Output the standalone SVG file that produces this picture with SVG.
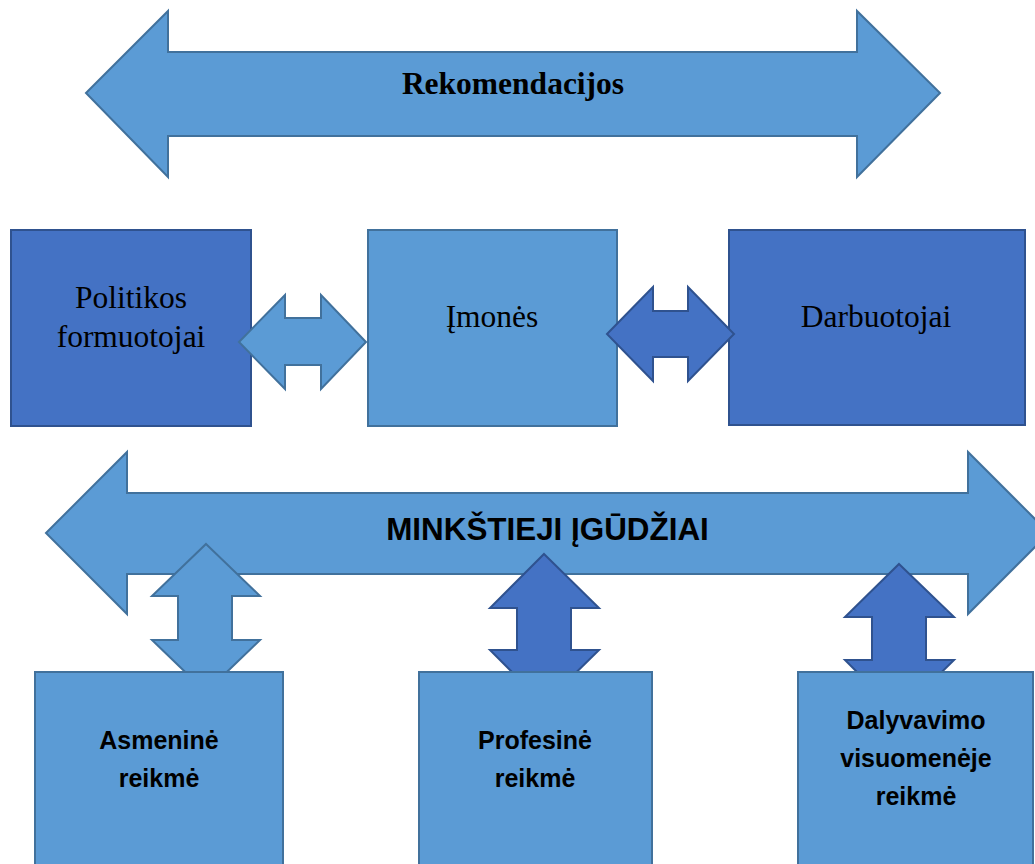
<svg xmlns="http://www.w3.org/2000/svg" width="1035" height="864" viewBox="0 0 1035 864">
<style>
.light{fill:#5B9BD5;stroke:#41719C;stroke-width:2}
.dark{fill:#4472C4;stroke:#2F528F;stroke-width:2}
.serif{font-family:"Liberation Serif","Times New Roman",serif;fill:#000;text-anchor:middle}
.sans{font-family:"Liberation Sans",Arial,sans-serif;font-weight:bold;fill:#000;text-anchor:middle}
</style>
<rect width="1035" height="864" fill="#fff"/>
<g id="rekomendacijos">
<polygon class="light" points="86,93 168,11 168,52 857,52 857,11 940,93 857,177 857,136 168,136 168,177"/>
<text class="serif" x="513" y="94" font-size="31.5" font-weight="bold">Rekomendacijos</text>
</g>
<g id="politikos">
<rect class="dark" x="11" y="230" width="240" height="196"/>
<text class="serif" x="131" y="308" font-size="31.5">Politikos</text>
<text class="serif" x="131" y="347" font-size="31.5">formuotojai</text>
</g>
<g id="imones">
<rect class="light" x="368" y="230" width="249" height="196"/>
<text class="serif" x="492" y="327" font-size="31.5">Įmonės</text>
</g>
<g id="darbuotojai">
<rect class="dark" x="729" y="230" width="296" height="195"/>
<text class="serif" x="876" y="327" font-size="31.5">Darbuotojai</text>
</g>
<g id="minkstieji">
<polygon class="light" points="46,533 127,452 127,493 968,493 968,452 1049,533 968,614 968,574 127,574 127,614"/>
<text class="sans" x="547.5" y="540" font-size="31.4">MINKŠTIEJI ĮGŪDŽIAI</text>
</g>
<g id="connectors">
<polygon class="light" points="239,342 285,295 285,318 321,318 321,295 366,342 321,389 321,365 285,365 285,389"/>
<polygon class="dark" points="607,334 653,287 653,311 688,311 688,287 734,334 688,381 688,357 653,357 653,381"/>
<polygon class="light" points="206,544 260,596 232,596 232,640 260,640 206,692 152,640 178,640 178,596 152,596"/>
<polygon class="dark" points="544,554 599,608 571,608 571,650 599,650 544,704 490,650 517,650 517,608 490,608"/>
<polygon class="dark" points="899,564 954,617 926,617 926,660 954,660 899,714 845,660 872,660 872,617 845,617"/>
</g>
<g id="asmenine">
<rect class="light" x="35" y="672" width="248" height="210"/>
<text class="sans" x="159" y="749" font-size="25">Asmeninė</text>
<text class="sans" x="159" y="787" font-size="25">reikmė</text>
</g>
<g id="profesine">
<rect class="light" x="419" y="672" width="233" height="210"/>
<text class="sans" x="535" y="749" font-size="25">Profesinė</text>
<text class="sans" x="535" y="787" font-size="25">reikmė</text>
</g>
<g id="dalyvavimo">
<rect class="light" x="798" y="672" width="235" height="210"/>
<text class="sans" x="916" y="729" font-size="25">Dalyvavimo</text>
<text class="sans" x="916" y="767" font-size="25">visuomenėje</text>
<text class="sans" x="916" y="805" font-size="25">reikmė</text>
</g>
</svg>
